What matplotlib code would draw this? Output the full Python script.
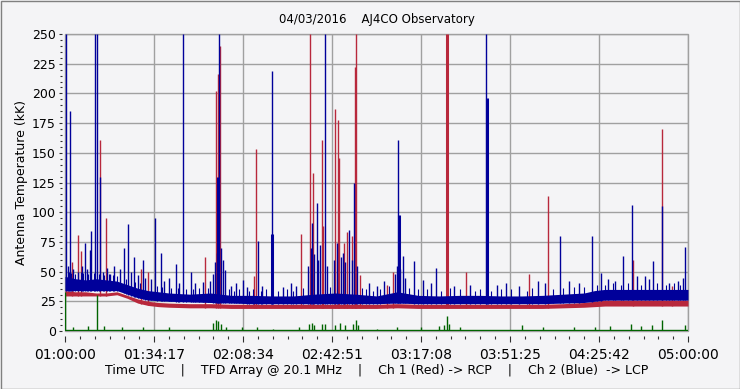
import numpy as np
import matplotlib
matplotlib.use("Agg")
import matplotlib.pyplot as plt
from matplotlib.patches import Rectangle

# time in minutes after 01:00:00 UTC, values in kK
band_t = [0, 4, 8, 12, 16, 20, 24, 28, 32, 36, 40, 48, 56, 64, 72, 80, 88, 96,
          104, 112, 120, 128, 136, 144, 152, 160, 168, 176, 184, 192, 200, 204,
          208, 216, 224, 232, 240]
blue_top = [46, 44, 43, 44, 43, 42, 39, 36, 34, 33, 32, 31, 32, 30, 30, 29.5, 29.5, 31,
            32, 31, 29.5, 33, 30, 29.5, 30, 30, 29.5, 29.5, 30, 31, 32, 34,
            35, 35, 35, 35, 35]
blue_low = [34, 34, 34, 34, 34, 34, 31, 28, 26, 25.5, 25, 24.5, 24, 23.5, 23, 23, 23, 23,
            23, 23, 23, 23.5, 23, 23, 23, 23, 23, 23, 23, 23.5, 24, 25,
            26, 26, 26, 26, 26]
red_top = [34, 33, 33, 32, 32, 33, 30, 27, 25, 24, 23.5, 23, 23, 22.5, 22.5, 22.5, 22.5, 22.5,
           22.5, 22.5, 22.5, 23, 22.5, 22.5, 22.5, 22.5, 22.5, 22.5, 22.5, 23, 24, 25,
           26, 26, 26, 26, 26]
red_low = [29.5, 29.5, 29.5, 29.5, 29.5, 30.5, 27.5, 23.5, 21.5, 20.5, 20, 19.5, 19.5, 19, 19, 19, 19, 19,
           19, 19, 19, 19.5, 19, 19, 19, 19, 19, 19, 19, 19.5, 20, 20.5,
           21, 21, 21, 21, 21]

red_spk_t = [2.6, 4.9, 6.2, 13.6, 15.8, 29.3, 32, 54.0, 58.2, 59.1, 59.7, 73.0, 73.7, 90.8,
             94.5, 95.5, 99.1, 99.4, 104.1, 105.3, 105.7, 107.6, 108.5, 110.4, 111.8,
             112.2, 113.6, 123.9, 126.5, 154.6, 178.9, 186.2, 218.8, 230.1, 234.0]
red_spk_v = [58, 81, 67, 161, 95, 52, 50, 62, 202, 216, 240, 46, 153, 82,
             250, 133, 161, 88, 187, 178, 146, 74, 83, 80, 222,
             250, 47, 39, 50, 50, 48, 114, 60, 170, 38]
red_thick_t = [147.2]
red_thick_v = [250]

blue_spk_t = [0.4, 1.0, 2.0, 3.0, 5.0, 6.5, 7.8, 8.5, 9.6, 10.1, 11.4, 12.4, 13.6, 14.5,
              16.0, 17.5, 19.0, 21.0, 22.6, 24.4, 25.5, 26.7, 28.0, 30.2, 31.0, 33.0,
              34.6, 36.8, 38.0, 40.0, 42.9, 44.0, 45.5, 48.7, 50.0, 53.0, 56.0, 57.2,
              57.8, 58.4, 59.3, 60.2, 60.8, 61.8, 64.0, 66.0, 68.5, 70.0, 74.5, 76.0,
              79.9, 84.0, 87.0, 89.0, 93.8, 94.8, 95.2, 96.0, 96.9, 97.6, 98.3, 100.2,
              101.0, 103.5, 104.8, 106.2, 107.0, 108.0, 109.5, 110.5, 111.5, 112.6,
              117.0, 120.0, 123.0, 127.0, 127.8, 128.4, 129.2, 130.3, 131.0, 134.4,
              138.0, 141.0, 143.0, 150.0, 156.0, 162.3, 166.5, 170.0, 175.0, 182.3,
              185.0, 190.8, 194.2, 198.0, 203.1, 206.6, 209.0, 212.0, 215.1, 218.5,
              220.4, 223.5, 225.0, 226.6, 230.1, 232.8, 236.0, 238.0, 239.0]
blue_spk_v = [250, 55, 185, 52, 50, 55, 74, 52, 68, 84, 250, 250, 130, 50,
              53, 48, 55, 52, 70, 90, 50, 62, 47, 60, 45, 44,
              95, 66, 42, 45, 56, 40, 250, 50, 40, 41, 42, 48,
              58, 66, 250, 70, 60, 51, 38, 40, 43, 37, 76, 38,
              219, 37, 40, 38, 55, 70, 91, 65, 108, 60, 72, 250,
              55, 60, 74, 62, 66, 58, 85, 60, 125, 55,
              40, 38, 42, 48, 55, 161, 52, 63, 45, 59,
              43, 40, 53, 38, 39, 250, 39, 40, 38, 42,
              40, 80, 42, 40, 80, 49, 44, 42, 63, 106,
              46, 46, 44, 59, 105, 40, 42, 45, 71]
blue_thick_t = [58.9, 79.6, 128.6, 162.6]
blue_thick_v = [130, 82, 98, 196]

# low noise spikes riding on the blue band
blue_noise_t = [1.5, 2.5, 4.0, 6.0, 7.0, 9.0, 11.0, 13.0, 15.0, 17.0, 18.5, 20.0, 23.5,
                27.0, 29.0, 35.5, 37.5, 41.0, 43.5, 46.5, 49.5, 51.5, 55.0, 63.0, 65.0,
                67.0, 71.0, 72.5, 75.5, 77.5, 82.0, 85.5, 88.0, 91.5, 102.0, 114.5, 116.0,
                118.5, 121.5, 125.0, 132.5, 136.0, 139.5, 145.0, 148.5, 152.0, 158.0,
                160.0, 164.0, 168.0, 172.0, 178.0, 180.0, 188.0, 192.0, 196.0, 200.0,
                205.0, 208.0, 211.0, 214.0, 217.0, 222.0, 228.0, 231.5, 234.5, 237.0]
blue_noise_v = [50, 49, 48, 50, 49, 48, 49, 48, 47, 48, 47, 46, 44,
                41, 40, 38, 37, 36, 36, 35, 35, 36, 36, 35, 34,
                35, 34, 35, 34, 35, 34, 35, 34, 36, 37, 36, 35,
                34, 35, 38, 36, 35, 35, 34, 36, 35, 34,
                35, 34, 35, 35, 34, 36, 35, 36, 37, 37,
                39, 39, 40, 39, 40, 39, 40, 39, 40, 39]

green_t = [0, 3, 9, 12.3, 15, 22, 30, 40, 57, 58, 59, 60, 62, 68, 74, 80, 90, 94, 95,
           96, 99, 100, 104, 106, 108, 111, 112, 113, 120, 128, 137, 144, 146, 147,
           148, 152, 176, 184, 196, 204, 210, 218, 222, 226, 230, 239]
green_v = [33, 3, 4, 30, 4, 3, 3, 3, 7, 9, 8, 6, 3, 3, 3, 2, 3, 6, 7,
           5, 6, 6, 5, 7, 5, 6, 9, 5, 2, 3, 3, 4, 5, 13,
           6, 3, 5, 3, 3, 3, 4, 6, 4, 5, 9, 5]

tick_labels = ["01:00:00", "01:34:17", "02:08:34", "02:42:51",
               "03:17:08", "03:51:25", "04:25:42", "05:00:00"]

RED = "#b8283c"
BLUE = "#00009a"
GREEN = "#006400"
BG = "#f4f4f6"
GRID = "#a0a0a0"

fig = plt.figure(figsize=(7.4, 3.89), dpi=100, facecolor=BG)
ax = fig.add_axes([65 / 740, 58 / 389, 623 / 740, 297 / 389], facecolor=BG)

# red channel (RCP)
ax.fill_between(band_t, red_low, red_top, color=RED, lw=0, zorder=2)
ax.vlines(red_spk_t, np.interp(red_spk_t, band_t, red_low), red_spk_v,
          color=RED, lw=1.0, zorder=2)
ax.vlines(red_thick_t, np.interp(red_thick_t, band_t, red_low), red_thick_v,
          color=RED, lw=2.2, zorder=2)

# blue channel (LCP)
ax.fill_between(band_t, blue_low, blue_top, color=BLUE, lw=0, zorder=3)
ax.vlines(blue_noise_t, np.interp(blue_noise_t, band_t, blue_low), blue_noise_v,
          color=BLUE, lw=0.8, zorder=3)
ax.vlines(blue_spk_t, np.interp(blue_spk_t, band_t, blue_low), blue_spk_v,
          color=BLUE, lw=1.0, zorder=3)
ax.vlines(blue_thick_t, np.interp(blue_thick_t, band_t, blue_low), blue_thick_v,
          color=BLUE, lw=2.2, zorder=3)

# green channel
ax.plot([0, 240], [0.8, 0.8], color=GREEN, lw=1.0, zorder=4)
ax.vlines(green_t, 0, green_v, color=GREEN, lw=1.0, zorder=4)

ax.set_xlim(0, 240)
ax.set_ylim(0, 250)

major = np.arange(8) * 240 / 7
ax.set_xticks(major)
ax.set_xticklabels(tick_labels, fontsize=9)
ax.set_xticks(np.arange(43) * 240 / 42, minor=True)
ax.set_yticks(np.arange(0, 251, 25))
ax.set_yticks(np.arange(0, 251, 5), minor=True)
ax.tick_params(axis="y", labelsize=9)

for s in ["top", "right", "left", "bottom"]:
    ax.spines[s].set_visible(False)
ax.spines["bottom"].set_position(("outward", 3.6))
ax.spines["left"].set_position(("outward", 2.5))
ax.tick_params(axis="x", which="major", length=4.3, width=0.8, color="#303030", pad=4)
ax.tick_params(axis="x", which="minor", length=2, width=0.8, color="#303030")
ax.tick_params(axis="y", which="major", length=2.2, width=0.8, color="#303030", pad=2)
ax.tick_params(axis="y", which="minor", length=1.2, width=0.8, color="#303030")

ax.grid(True, which="major", color=GRID, lw=1, zorder=0)
ax.set_axisbelow(True)
ax.add_patch(Rectangle((0, 0), 1, 1, transform=ax.transAxes, fill=False,
                       edgecolor=GRID, lw=1, clip_on=False, zorder=1))

ax.set_title("04/03/2016    AJ4CO Observatory", fontsize=8.5, pad=8)
ax.set_ylabel("Antenna Temperature (kK)", fontsize=9, labelpad=3)
ax.set_xlabel("Time UTC    |    TFD Array @ 20.1 MHz    |    Ch 1 (Red) -> RCP"
              "    |    Ch 2 (Blue)  -> LCP", fontsize=9, labelpad=2)

# window border
fig.add_artist(Rectangle((0.5 / 740, 0.5 / 389), 739 / 740, 388 / 389,
                         transform=fig.transFigure, fill=False,
                         edgecolor="#808080", lw=1))

fig.savefig("out.png", dpi=100, facecolor=BG)
